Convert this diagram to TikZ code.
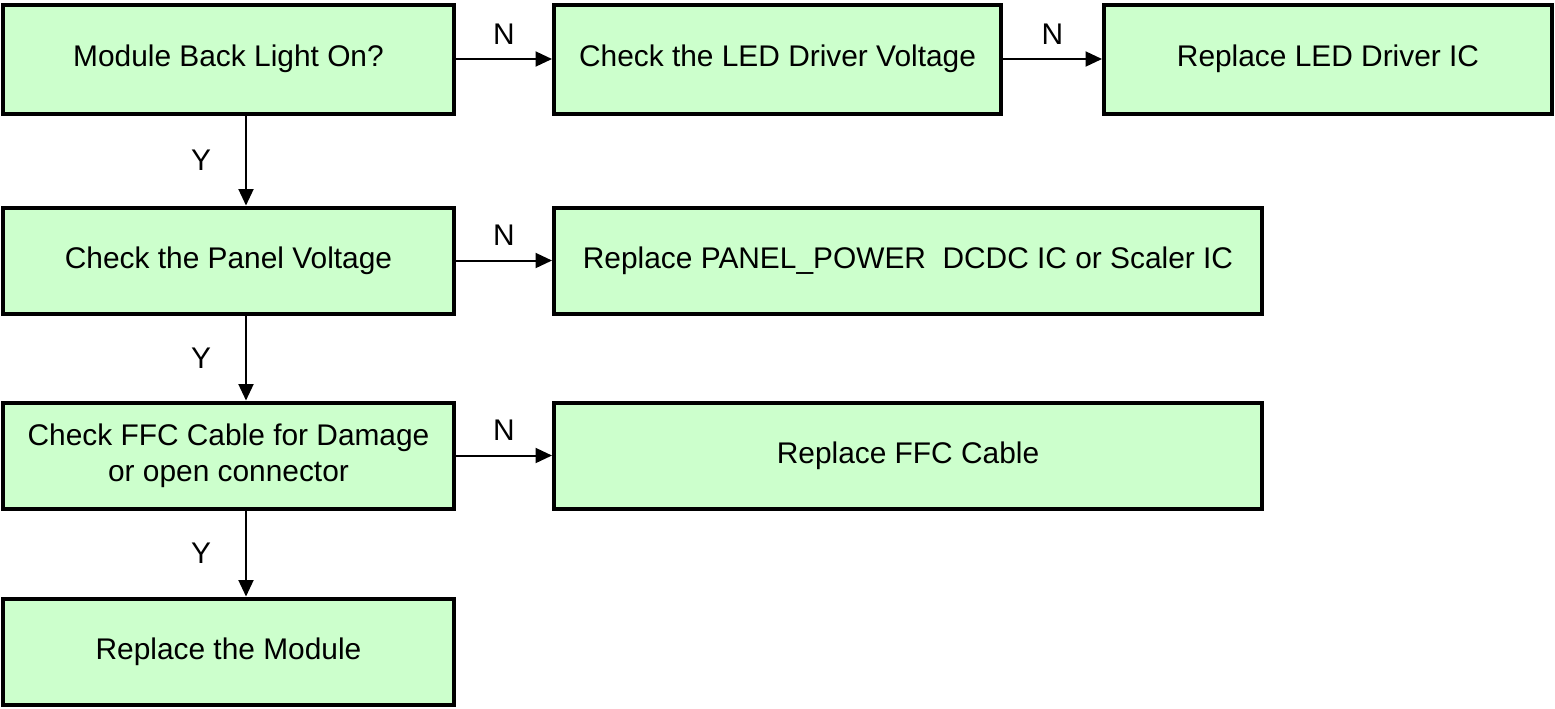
\documentclass[tikz,border=0pt]{standalone}
\usepackage{fontspec}
\setmainfont{Liberation Sans}
\usepackage{tikz}
\usetikzlibrary{arrows.meta, positioning}
\definecolor{mintA}{HTML}{CCFFCC}
\tikzset{
  stepbox/.style={
    draw=black, fill=mintA, line width=0.08cm,
    align=center, inner sep=2pt, minimum height=2.12cm,
    font=\fontsize{17pt}{20.5pt}\selectfont
  },
  arrow/.style={-{Triangle[length=3.3mm, width=3mm]}, line width=0.04cm},
  yn/.style={inner sep=0pt, font=\fontsize{17pt}{20.5pt}\selectfont}
}

\begin{document}
\begin{tikzpicture}[node distance=1.92cm]
  \useasboundingbox (0,0) rectangle (31.1,-14.16);
  \node[stepbox, minimum width=9.02cm, minimum height=2.18cm] (backlight) at (4.57,-1.18) {Module Back Light On?};
  \node[stepbox, right=of backlight, minimum width=8.94cm, minimum height=2.18cm] (ledvolt) {Check the LED Driver Voltage};
  \node[stepbox, right=1.98cm of ledvolt, minimum width=8.96cm, minimum height=2.18cm] (ledic) {Replace LED Driver IC};
  \node[stepbox, below=1.8cm of backlight, minimum width=9.02cm] (panel) {Check the Panel Voltage};
  \node[stepbox, right=of panel, minimum width=14.16cm] (dcdc) {Replace PANEL\_POWER\ \ DCDC IC or Scaler IC};
  \node[stepbox, below=1.7cm of panel, minimum width=9.02cm] (ffc) {Check FFC Cable for Damage\\or open connector};
  \node[stepbox, right=of ffc, minimum width=14.16cm] (cable) {Replace FFC Cable};
  \node[stepbox, below=1.72cm of ffc, minimum width=9.02cm] (module) {Replace the Module};
  \draw[arrow] (backlight) -- node[yn, above=0.28cm] {N} (ledvolt);
  \draw[arrow] (ledvolt) -- node[yn, above=0.28cm] {N} (ledic);
  \draw[arrow] (panel) -- node[yn, above=0.28cm] {N} (dcdc);
  \draw[arrow] (ffc) -- node[yn, above=0.28cm] {N} (cable);
  \draw[arrow] ([xshift=0.35cm]backlight.south) -- node[yn, left=0.68cm] {Y} ([xshift=0.35cm]panel.north);
  \draw[arrow] ([xshift=0.35cm]panel.south) -- node[yn, left=0.68cm] {Y} ([xshift=0.35cm]ffc.north);
  \draw[arrow] ([xshift=0.35cm]ffc.south) -- node[yn, left=0.68cm] {Y} ([xshift=0.35cm]module.north);
\end{tikzpicture}
\end{document}
